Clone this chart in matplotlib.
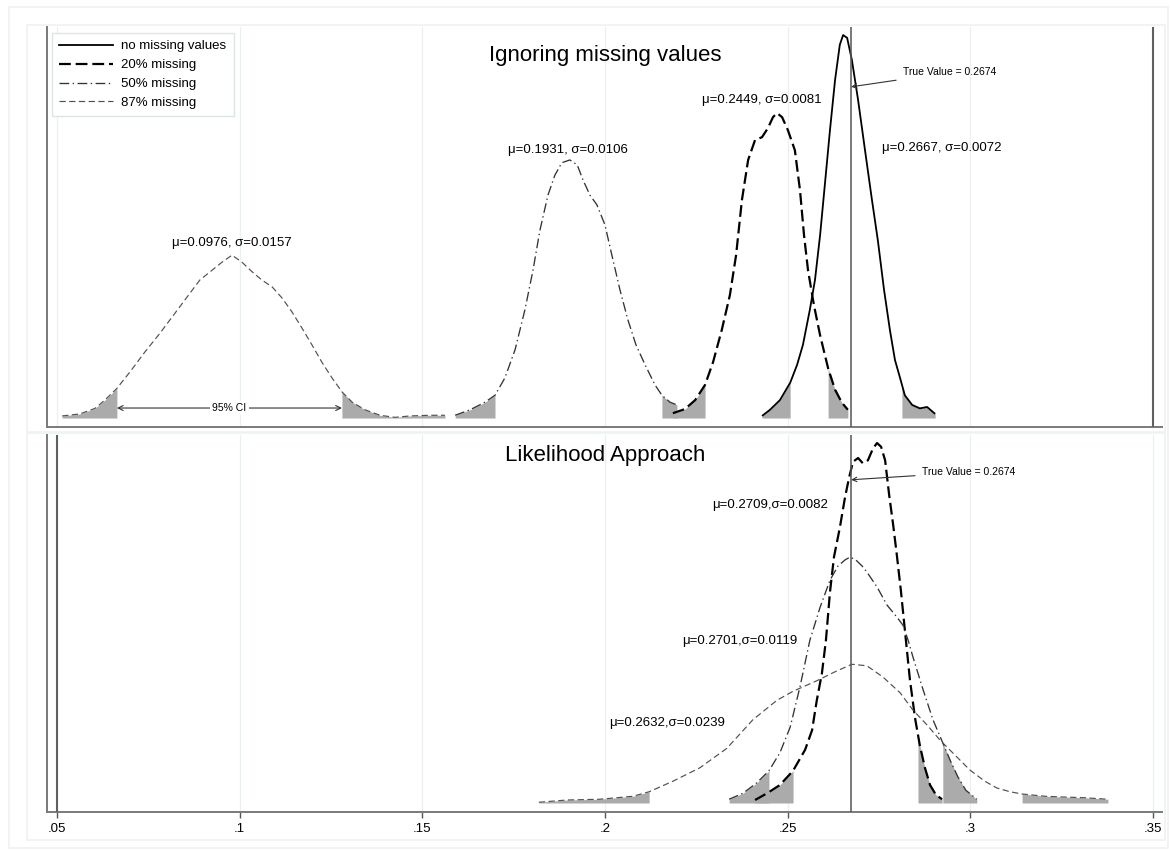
import numpy as np
import matplotlib
matplotlib.use("Agg")
import matplotlib.pyplot as plt
from matplotlib.patches import Rectangle
from matplotlib.lines import Line2D

plt.rcParams['font.family'] = ['Liberation Sans', 'DejaVu Sans']
plt.rcParams['lines.scale_dashes'] = False

# ---------------- data ----------------
series_names = ["no missing values", "20% missing", "50% missing", "87% missing"]
true_value = 0.2674
xticks = [0.05, 0.10, 0.15, 0.20, 0.25, 0.30, 0.35]
xtick_labels = [".05", ".1", ".15", ".2", ".25", ".3", ".35"]

# Top panel: ignoring missing values (kernel densities)
top_none_x = [.2430, .2452, .2479, .2507, .2526, .2542, .2561, .2575, .2589, .2602, .2616, .2630,
              .2643, .2652, .2663, .2676, .2693, .2712, .2731, .2747, .2764, .2780, .2794, .2808,
              .2821, .2841, .2862, .2882, .2904]
top_none_y = [0.3, 1.2, 2.6, 5.1, 7.7, 10.6, 15.7, 20.0, 26.5, 33.8, 41.7, 49.0,
              54.1, 55.5, 55.1, 51.9, 46.1, 38.8, 31.6, 25.8, 18.6, 12.8, 8.4, 5.8,
              3.3, 1.9, 1.4, 1.6, 0.6]

top_20_x = [.2186, .2219, .2247, .2274, .2296, .2320, .2342, .2359, .2375, .2392, .2411, .2430,
            .2446, .2460, .2471, .2485, .2501, .2520, .2534, .2545, .2556, .2572, .2589, .2611,
            .2630, .2649, .2665]
top_20_y = [0.7, 1.3, 2.6, 4.8, 8.1, 12.8, 17.8, 23.6, 31.6, 37.4, 40.3, 40.7,
            42.0, 43.6, 44.2, 43.6, 41.7, 38.8, 33.0, 26.5, 21.4, 16.4, 12.0, 7.2,
            4.1, 2.2, 1.2]

top_50_x = [.1590, .1631, .1672, .1699, .1726, .1754, .1781, .1803, .1822, .1844, .1863, .1882,
            .1904, .1924, .1940, .1959, .1978, .2000, .2019, .2041, .2063, .2085, .2110, .2137,
            .2156, .2178, .2197]
top_50_y = [0.4, 1.2, 2.3, 3.3, 5.8, 9.9, 15.7, 21.4, 27.2, 32.3, 35.2, 37.0,
            37.4, 36.7, 34.5, 32.3, 30.9, 28.0, 23.6, 18.6, 14.2, 10.6, 7.7, 4.8,
            3.3, 2.3, 1.9]

top_87_x = [.0514, .0563, .0604, .0631, .0664, .0700, .0741, .0782, .0823, .0864, .0891, .0924,
            .0952, .0979, .1006, .1034, .1061, .1089, .1116, .1143, .1171, .1198, .1225, .1253,
            .1280, .1308, .1343, .1384, .1425, .1466, .1521, .1562]
top_87_y = [0.3, 0.6, 1.4, 2.6, 4.3, 6.7, 9.6, 12.3, 15.2, 18.1, 20.0, 21.4,
            22.6, 23.6, 22.6, 21.2, 20.0, 19.0, 17.4, 15.4, 13.0, 10.6, 8.1, 5.8,
            3.8, 2.3, 1.2, 0.4, 0.1, 0.3, 0.4, 0.4]

top_ci_lo = [0.2507, 0.2274, 0.1699, 0.0664]
top_ci_hi = [0.2813, 0.2611, 0.2156, 0.1280]
top_labels = ["μ=0.2667, σ=0.0072", "μ=0.2449, σ=0.0081", "μ=0.1931, σ=0.0106", "μ=0.0976, σ=0.0157"]
top_label_x = [0.2923, 0.2430, 0.1899, 0.0979]
top_label_y = [39.1, 46.1, 38.8, 25.4]

# Bottom panel: likelihood approach
bot_20_x = [.2411, .2444, .2479, .2515, .2548, .2567, .2580, .2594, .2605, .2616, .2627, .2643,
            .2657, .2668, .2679, .2693, .2706, .2720, .2734, .2745, .2756, .2767, .2778, .2789,
            .2799, .2810, .2821, .2835, .2849, .2862, .2876, .2890, .2906, .2923]
bot_20_y = [0.4, 1.3, 2.4, 4.3, 7.1, 9.7, 13.7, 17.3, 21.7, 28.1, 32.8, 36.7,
            40.7, 43.3, 45.5, 46.0, 45.3, 45.7, 47.3, 48.0, 47.5, 45.7, 41.1, 37.1,
            33.1, 28.4, 23.1, 16.4, 11.3, 7.7, 4.7, 2.4, 1.1, 0.5]

bot_50_x = [.2340, .2378, .2416, .2449, .2479, .2507, .2534, .2561, .2589, .2616, .2638, .2657,
            .2671, .2687, .2704, .2717, .2745, .2772, .2799, .2816, .2830, .2843, .2871, .2898,
            .2925, .2945, .2966, .2988, .3018]
bot_50_y = [0.5, 1.3, 2.7, 4.3, 6.7, 10.1, 15.5, 21.7, 26.1, 29.7, 31.6, 32.4,
            32.8, 32.4, 31.6, 30.8, 28.8, 26.4, 24.8, 23.7, 21.7, 19.5, 15.1, 11.1,
            8.0, 5.7, 3.5, 1.7, 0.5]

bot_87_x = [.1819, .1896, .1986, .2077, .2121, .2186, .2260, .2334, .2405, .2471, .2515, .2580,
            .2630, .2676, .2717, .2761, .2808, .2843, .2882, .2917, .2958, .2999, .3040, .3073,
            .3109, .3142, .3205, .3254, .3314, .3377]
bot_87_y = [0.1, 0.4, 0.5, 0.9, 1.5, 2.9, 4.7, 7.3, 11.1, 13.7, 14.9, 16.3,
            17.5, 18.5, 18.3, 16.8, 14.7, 12.4, 10.4, 8.4, 6.4, 4.4, 2.9, 2.0,
            1.5, 1.2, 0.9, 0.8, 0.7, 0.5]

bot_ci_lo = [0.2515, 0.2449, 0.2121]
bot_ci_hi = [0.2857, 0.2925, 0.3142]
bot_labels = ["μ=0.2709,σ=0.0082", "μ=0.2701,σ=0.0119", "μ=0.2632,σ=0.0239"]
bot_label_x = [0.2452, 0.2370, 0.2170]
bot_label_y = [39.7, 21.6, 10.7]

# ---------------- styles ----------------
styles = [
    dict(color='black', lw=1.3, ls='-'),
    dict(color='black', lw=1.6, ls=(0, (8.5, 3.5))),
    dict(color='#333333', lw=0.95, ls=(0, (7, 2.5, 1, 2.5))),
    dict(color='#505050', lw=0.85, ls=(0, (4.5, 2.5))),
]
shade_color = '#ababab'
grid_color = '#eaf0f0'
spine_color = '#7a7a7a'
line_color = '#555555'
FS = 9.5


def shade(ax, x, y, lo, hi):
    x = np.asarray(x, float)
    y = np.asarray(y, float)
    ylo = np.interp(lo, x, y)
    yhi = np.interp(hi, x, y)
    m = x < lo
    ax.fill_between(np.r_[x[m], lo], np.r_[y[m], ylo], 0, color=shade_color, lw=0, zorder=1)
    m = x > hi
    ax.fill_between(np.r_[hi, x[m]], np.r_[yhi, y[m]], 0, color=shade_color, lw=0, zorder=1)


W, H = 1170, 851
fig = plt.figure(figsize=(W / 100, H / 100), dpi=100)
fig.patch.set_facecolor('white')


def frect(x0, y0, x1, y1):
    fig.add_artist(Rectangle((x0 / W, 1 - y1 / H), (x1 - x0) / W, (y1 - y0) / H,
                             transform=fig.transFigure, fill=False,
                             edgecolor='#edf2f2', lw=1.2, zorder=0))


frect(9, 7, 1168, 848)
frect(27, 25, 1165, 432)
frect(27, 433, 1165, 840)

xlim = (0.04726, 0.3525)
ax1 = fig.add_axes([47 / W, 1 - 427 / H, 1115 / W, 400 / H])
ax2 = fig.add_axes([47 / W, 1 - 812 / H, 1115 / W, 377 / H])

for ax in (ax1, ax2):
    ax.set_xlim(*xlim)
    ax.set_xticks(xticks)
    ax.set_yticks([])
    ax.grid(axis='x', color=grid_color, lw=0.9, zorder=0)
    ax.set_axisbelow(True)
    for s in ('top', 'right'):
        ax.spines[s].set_visible(False)
    for s in ('left', 'bottom'):
        ax.spines[s].set_color(spine_color)
        ax.spines[s].set_linewidth(1.4)

ax1.set_ylim(-1.30, 56.67)
ax2.set_ylim(-1.2, 49.07)
ax1.tick_params(axis='x', length=0, labelbottom=False)
ax2.set_xticklabels(xtick_labels)
ax2.tick_params(axis='x', length=4, width=1, color='#555555', pad=4, labelsize=9.5, direction='out')

# ---- top panel ----
top_x = [top_none_x, top_20_x, top_50_x, top_87_x]
top_y = [top_none_y, top_20_y, top_50_y, top_87_y]
for i in range(4):
    shade(ax1, top_x[i], top_y[i], top_ci_lo[i], top_ci_hi[i])
for i in range(4):
    ax1.plot(top_x[i], top_y[i], zorder=3, solid_capstyle='butt', dash_capstyle='butt', **styles[i])
    ax1.text(top_label_x[i], top_label_y[i], top_labels[i], ha='center', va='center', fontsize=FS, zorder=5)

ax1.axvline(true_value, color=line_color, lw=1.1, zorder=4)
ax1.axvline(0.35, color='#606060', lw=1.5, zorder=4)
ax1.text(0.2, 52.6, "Ignoring missing values", ha='center', va='center', fontsize=16, zorder=5)
ax1.annotate("True Value = 0.2674", xy=(true_value, 48.0), xytext=(0.2816, 50.1),
             ha='left', va='center', fontsize=7.5, zorder=6,
             arrowprops=dict(arrowstyle='->', lw=0.8, color='#333333', shrinkA=3, shrinkB=0,
                             mutation_scale=8))
# 95% CI arrow under the 87% curve
ax1.annotate("", xy=(top_ci_lo[3], 1.45), xytext=(top_ci_hi[3], 1.45),
             arrowprops=dict(arrowstyle='<->', lw=0.8, color='#333333', shrinkA=0, shrinkB=0,
                             mutation_scale=9), zorder=4)
ax1.text((top_ci_lo[3] + top_ci_hi[3]) / 2, 1.45, "95% CI", ha='center', va='center', fontsize=7.5,
         zorder=5, bbox=dict(facecolor='white', edgecolor='none', pad=1.5))

handles = [Line2D([], [], **styles[i]) for i in range(4)]
leg = ax1.legend(handles, series_names, loc='upper left', bbox_to_anchor=(0.0045, 0.985),
                 fontsize=9.5, frameon=True, fancybox=False, edgecolor='#dde4e4', framealpha=1,
                 handlelength=4.1, handletextpad=0.6, labelspacing=0.5, borderpad=0.55,
                 borderaxespad=0)
leg.get_frame().set_linewidth(1.0)
leg.set_zorder(7)

# ---- bottom panel ----
bot_x = [bot_20_x, bot_50_x, bot_87_x]
bot_y = [bot_20_y, bot_50_y, bot_87_y]
for i in range(3):
    shade(ax2, bot_x[i], bot_y[i], bot_ci_lo[i], bot_ci_hi[i])
for i in range(3):
    ax2.plot(bot_x[i], bot_y[i], zorder=3, solid_capstyle='butt', dash_capstyle='butt', **styles[i + 1])
    ax2.text(bot_label_x[i], bot_label_y[i], bot_labels[i], ha='center', va='center', fontsize=FS, zorder=5)

ax2.axvline(true_value, color=line_color, lw=1.1, zorder=4)
ax2.axvline(0.05, color='#606060', lw=1.5, zorder=4)
ax2.text(0.2, 46.3, "Likelihood Approach", ha='center', va='center', fontsize=16, zorder=5)
ax2.annotate("True Value = 0.2674", xy=(true_value, 43.1), xytext=(0.2868, 44.1),
             ha='left', va='center', fontsize=7.5, zorder=6,
             arrowprops=dict(arrowstyle='->', lw=0.8, color='#333333', shrinkA=3, shrinkB=0,
                             mutation_scale=8))

fig.savefig("out.png", dpi=100, facecolor='white')
